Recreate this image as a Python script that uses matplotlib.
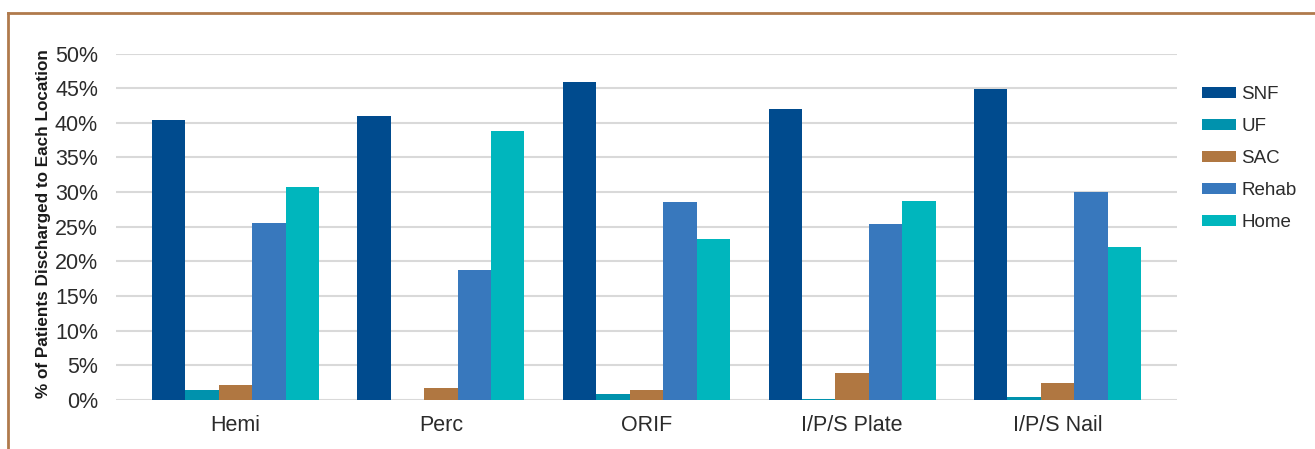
import numpy as np
import matplotlib.pyplot as plt
from matplotlib.lines import Line2D

plt.rcParams['font.family'] = ['Liberation Sans', 'DejaVu Sans']

categories = ['Hemi', 'Perc', 'ORIF', 'I/P/S Plate', 'I/P/S Nail']
series = ['SNF', 'UF', 'SAC', 'Rehab', 'Home']

snf = [40.4, 41.0, 45.9, 42.0, 44.9]
uf = [1.5, 0.0, 0.9, 0.2, 0.5]
sac = [2.1, 1.8, 1.5, 3.9, 2.4]
rehab = [25.5, 18.7, 28.6, 25.4, 30.0]
home = [30.7, 38.8, 23.2, 28.7, 22.1]

colors = ['#004b8e', '#0092ad', '#b07741', '#3878bd', '#00b6bd']

fig = plt.figure(figsize=(13.15, 4.49), dpi=100)
ax = fig.add_axes([116 / 1315, 49 / 449, 1061 / 1315, 346.5 / 449])

x = np.arange(len(categories))
w = 0.1625
for i, (vals, name) in enumerate(zip([snf, uf, sac, rehab, home], series)):
    ax.bar(x + (i - 2) * w, vals, width=w, color=colors[i], label=name, zorder=3)

ax.set_xlim(-0.581, 4.581)
ax.set_ylim(0, 50)
ax.set_yticks(np.arange(0, 51, 5))
ax.set_yticklabels(['%d%%' % v for v in range(0, 51, 5)])
ax.set_xticks(x)
ax.set_xticklabels(categories)
ax.tick_params(axis='both', length=0, labelsize=15.5, colors='#2b2b2b')
ax.tick_params(axis='y', pad=13)
ax.tick_params(axis='x', pad=11)
ax.grid(axis='y', color='#d9d9d9', linewidth=1.5, zorder=0)
for s in ax.spines.values():
    s.set_visible(False)

fig.text(44 / 1315, 1 - 224 / 449, '% of Patients Discharged to Each Location',
         rotation=90, ha='center', va='center', fontsize=12.3,
         fontweight='bold', color='#1a1a1a')

fig.legend(loc='upper left', bbox_to_anchor=(1202 / 1315, 1 - 86 / 449),
           frameon=False, fontsize=13.5, handlelength=1.8, handleheight=0.55,
           handletextpad=0.3, labelspacing=0.8, borderpad=0, borderaxespad=0,
           labelcolor='#2b2b2b')

# brown frame line at top and left
brown = '#b07a4c'
fig.add_artist(Line2D([8 / 1315, 1], [1 - 13 / 449, 1 - 13 / 449], color=brown, linewidth=2))
fig.add_artist(Line2D([8 / 1315, 8 / 1315], [0, 1 - 13 / 449], color=brown, linewidth=2))

fig.savefig('out.png', dpi=100)
